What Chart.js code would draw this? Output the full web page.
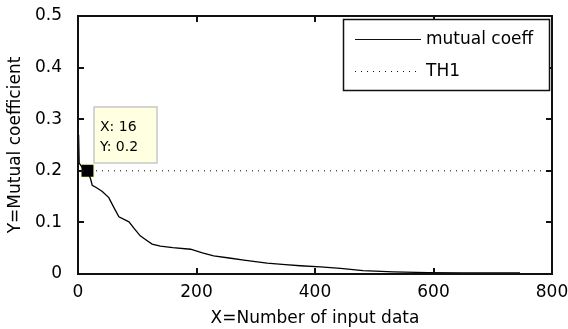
<!DOCTYPE html>
<html>
<head>
<meta charset="utf-8">
<script src="https://cdn.jsdelivr.net/npm/chart.js@4/dist/chart.umd.min.js"></script>
<style>
  html, body { margin: 0; padding: 0; background: #fff; }
  canvas { display: block; }
</style>
</head>
<body>
<canvas id="chart" width="568" height="329"></canvas>
<script>
// curve values
const coeffX = [1, 2, 8, 16, 21, 24, 30, 41, 52, 60, 69, 86, 95, 105, 115, 125, 139, 160, 190, 210, 229, 255, 280, 319, 350, 375, 409, 443, 481, 532, 591, 650, 700, 746];
const coeffY = [0.27, 0.215, 0.205, 0.2, 0.185, 0.172, 0.168, 0.16, 0.148, 0.13, 0.111, 0.101, 0.088, 0.074, 0.066, 0.058, 0.054, 0.051, 0.048, 0.041, 0.035, 0.031, 0.027, 0.021, 0.018, 0.016, 0.014, 0.011, 0.0064, 0.004, 0.0025, 0.002, 0.002, 0.002];

const thX = [0, 800];
const thY = [0.2, 0.2];

const tipX = [16];
const tipY = [0.2];

const xTicks = [0, 200, 400, 600, 800];
const yTicks = [0, 0.1, 0.2, 0.3, 0.4, 0.5];

const FONT = "'DejaVu Sans', sans-serif";

function toPoints(xs, ys) {
  return xs.map((x, i) => ({ x, y: ys[i] }));
}

const matlabDecor = {
  id: "matlabDecor",
  afterDraw(chart) {
    const { ctx, chartArea: a, scales } = chart;
    const L = Math.round(a.left), R = Math.round(a.right);
    const T = Math.round(a.top), B = Math.round(a.bottom);
    ctx.save();
    ctx.setLineDash([]);

    // axes box with inward ticks
    ctx.strokeStyle = "#111";
    ctx.lineWidth = 2;
    ctx.beginPath();
    ctx.moveTo(L, T);
    ctx.lineTo(R, T);
    ctx.lineTo(R, B);
    ctx.lineTo(L, B);
    ctx.closePath();
    xTicks.forEach((v) => {
      const px = Math.round(scales.x.getPixelForValue(v));
      ctx.moveTo(px, B);
      ctx.lineTo(px, B - 6);
      ctx.moveTo(px, T);
      ctx.lineTo(px, T + 6);
    });
    yTicks.forEach((v) => {
      const py = Math.round(scales.y.getPixelForValue(v));
      ctx.moveTo(L, py);
      ctx.lineTo(L + 6, py);
      ctx.moveTo(R, py);
      ctx.lineTo(R - 6, py);
    });
    ctx.stroke();

    // legend
    const lx = R - 209, ly = T + 3, lw = 206, lh = 71;
    ctx.fillStyle = "#fff";
    ctx.fillRect(lx, ly, lw, lh);
    ctx.lineWidth = 1.5;
    ctx.strokeRect(lx + 0.5, ly + 0.5, lw, lh);
    ctx.lineWidth = 1;
    const items = chart.data.datasets.slice(0, 2);
    items.forEach((ds, i) => {
      const y = Math.round(ly + 20 + i * 31.5) + 0.5;
      ctx.beginPath();
      ctx.setLineDash(ds.borderDash || []);
      ctx.moveTo(lx + 12, y);
      ctx.lineTo(lx + 78, y);
      ctx.stroke();
      ctx.setLineDash([]);
      ctx.fillStyle = "#000";
      ctx.font = "17px " + FONT;
      ctx.textBaseline = "middle";
      ctx.textAlign = "left";
      ctx.fillText(ds.label, lx + 83, y);
    });

    // data tip
    const px = scales.x.getPixelForValue(tipX[0]);
    const py = scales.y.getPixelForValue(tipY[0]);
    const bx = Math.round(px) + 7, by = Math.round(py) - 64, bw = 63, bh = 56;
    ctx.fillStyle = "#ffffe1";
    ctx.fillRect(bx, by, bw, bh);
    ctx.strokeStyle = "#c8c8c8";
    ctx.lineWidth = 1.5;
    ctx.strokeRect(bx, by, bw, bh);
    ctx.fillStyle = "#000";
    ctx.font = "14px " + FONT;
    ctx.textBaseline = "alphabetic";
    ctx.fillText("X: " + tipX[0], bx + 6, by + 24);
    ctx.fillText("Y: " + tipY[0], bx + 6, by + 44);

    ctx.restore();
  },
};

new Chart(document.getElementById("chart"), {
  type: "line",
  data: {
    datasets: [
      {
        label: "mutual coeff",
        data: toPoints(coeffX, coeffY),
        borderColor: "#000",
        borderWidth: 1.3,
        pointRadius: 0,
        tension: 0,
      },
      {
        label: "TH1",
        data: toPoints(thX, thY),
        borderColor: "#000",
        borderWidth: 1,
        borderDash: [1, 5],
        pointRadius: 0,
      },
      {
        label: "tip",
        data: toPoints(tipX, tipY),
        showLine: false,
        pointStyle: "rect",
        pointRadius: 9.5,
        pointBackgroundColor: "#000",
        pointBorderColor: "#ffffd0",
        pointBorderWidth: 1.5,
      },
    ],
  },
  options: {
    responsive: false,
    devicePixelRatio: 1,
    animation: false,
    events: [],
    layout: { padding: { left: 0, top: 16, right: 16, bottom: 0 } },
    plugins: { legend: { display: false }, tooltip: { enabled: false } },
    scales: {
      x: {
        type: "linear",
        min: 0,
        max: 800,
        grid: { display: false },
        border: { display: false },
        afterBuildTicks: (s) => { s.ticks = xTicks.map((v) => ({ value: v })); },
        afterFit: (s) => { s.height = 55; s.paddingLeft = 0; s.paddingRight = 0; },
        ticks: { color: "#000", padding: 0, font: { family: FONT, size: 17 }, maxRotation: 0 },
        title: {
          display: true,
          text: "X=Number of input data",
          color: "#000",
          font: { family: FONT, size: 17 },
          padding: { top: 0, bottom: 0 },
        },
      },
      y: {
        min: 0,
        max: 0.5,
        grid: { display: false },
        border: { display: false },
        afterBuildTicks: (s) => { s.ticks = yTicks.map((v) => ({ value: v })); },
        afterFit: (s) => { s.width = 78; s.paddingTop = 0; s.paddingBottom = 0; },
        ticks: { color: "#000", padding: 8, font: { family: FONT, size: 17 }, callback: (v) => String(v) },
        title: {
          display: true,
          text: "Y=Mutual coefficient",
          color: "#000",
          font: { family: FONT, size: 17 },
          padding: { top: 5, bottom: 0 },
        },
      },
    },
  },
  plugins: [matlabDecor],
});
</script>
</body>
</html>
